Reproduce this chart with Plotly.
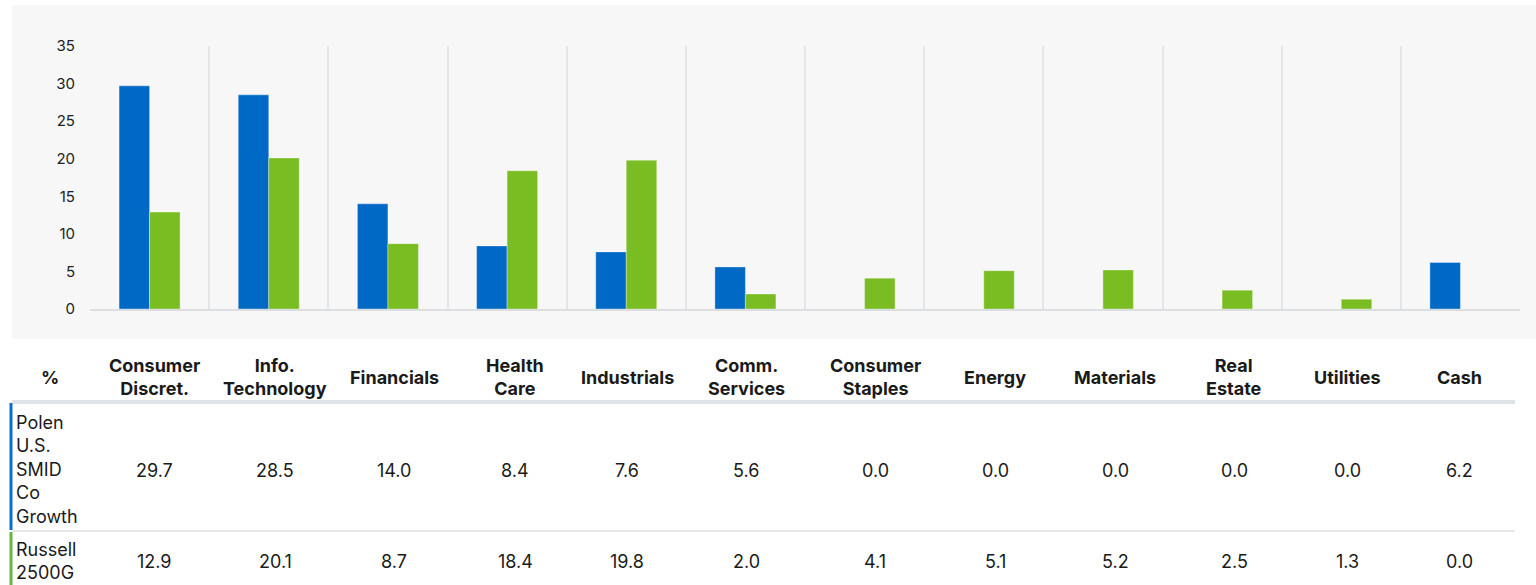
import plotly.graph_objects as go

# ---- data ----
sectors = ["Consumer Discret.", "Info. Technology", "Financials", "Health Care",
           "Industrials", "Comm. Services", "Consumer Staples", "Energy",
           "Materials", "Real Estate", "Utilities", "Cash"]
header_labels = ["Consumer<br>Discret.", "Info.<br>Technology", "Financials", "Health<br>Care",
                 "Industrials", "Comm.<br>Services", "Consumer<br>Staples", "Energy",
                 "Materials", "Real<br>Estate", "Utilities", "Cash"]
series_names = ["Polen U.S. SMID Co Growth", "Russell 2500G"]
row_labels = ["Polen<br>U.S.<br>SMID<br>Co<br>Growth", "Russell<br>2500G"]
polen = [29.7, 28.5, 14.0, 8.4, 7.6, 5.6, 0.0, 0.0, 0.0, 0.0, 0.0, 6.2]
russell = [12.9, 20.1, 8.7, 18.4, 19.8, 2.0, 4.1, 5.1, 5.2, 2.5, 1.3, 0.0]
y_ticks = [0, 5, 10, 15, 20, 25, 30, 35]

# ---- layout constants (pixels) ----
W, H = 1536, 585
BLUE = "#0069c6"
GREEN = "#7abd22"
FONT = "Inter"
TXT = "#1a1a1a"
plot_x0, plot_x1 = 90, 1520
plot_y0, plot_y1 = 46, 309
table_col_x = [154, 275, 394, 515, 627, 746, 875, 995, 1115, 1234, 1347, 1459]
header_y = 377
row_y = [470, 561]
row_label_y = [469, 561]


def px(x):
    return x / W


def py(y):
    return 1 - y / H


n = len(sectors)
xs = list(range(n))

fig = go.Figure()
fig.add_trace(go.Bar(x=xs, y=polen, name=series_names[0],
                     marker=dict(color=BLUE, line=dict(color="rgba(255,255,255,0.35)", width=1))))
fig.add_trace(go.Bar(x=xs, y=russell, name=series_names[1],
                     marker=dict(color=GREEN, line=dict(color="rgba(255,255,255,0.35)", width=1))))

shapes = [
    dict(type="rect", xref="paper", yref="paper", x0=px(12), x1=1, y0=py(339), y1=py(5),
         fillcolor="#f7f7f7", line=dict(width=0), layer="below"),
    dict(type="line", xref="paper", yref="paper", x0=px(12), x1=px(1515), y0=py(402), y1=py(402),
         line=dict(color="#dfe3e8", width=4)),
    dict(type="line", xref="paper", yref="paper", x0=px(12), x1=px(1515), y0=py(531), y1=py(531),
         line=dict(color="#e6e8ea", width=2)),
    dict(type="line", xref="paper", yref="paper", x0=px(11), x1=px(11), y0=py(403), y1=py(530),
         line=dict(color="#0a6dd0", width=3)),
    dict(type="line", xref="paper", yref="paper", x0=px(11), x1=px(11), y0=py(532), y1=0,
         line=dict(color="#6db33f", width=3)),
]

ann = []
ann.append(dict(x=px(50), y=py(header_y), text="<b>%</b>", showarrow=False,
                xref="paper", yref="paper", xanchor="center", yanchor="middle",
                font=dict(family=FONT, size=18, color=TXT)))
for i, lab in enumerate(header_labels):
    ann.append(dict(x=px(table_col_x[i]), y=py(header_y), text="<b>" + lab + "</b>",
                    showarrow=False, xref="paper", yref="paper", xanchor="center",
                    yanchor="middle", align="center",
                    font=dict(family=FONT, size=18, color=TXT)))
for r, (lab, vals) in enumerate(zip(row_labels, [polen, russell])):
    ann.append(dict(x=px(14), y=py(row_label_y[r]), text=lab, showarrow=False,
                    xref="paper", yref="paper", xanchor="left", yanchor="middle",
                    align="left", font=dict(family=FONT, size=18, color=TXT)))
    for i, v in enumerate(vals):
        ann.append(dict(x=px(table_col_x[i]), y=py(row_y[r]), text=f"{v:.1f}",
                        showarrow=False, xref="paper", yref="paper", xanchor="center",
                        yanchor="middle", font=dict(family=FONT, size=18, color=TXT)))

fig.update_layout(
    width=W, height=H,
    margin=dict(l=0, r=0, t=0, b=0, pad=0, autoexpand=False),
    paper_bgcolor="white",
    plot_bgcolor="rgba(0,0,0,0)",
    barmode="group", bargap=0.488, bargroupgap=0,
    showlegend=False,
    shapes=shapes,
    annotations=ann,
    xaxis=dict(domain=[px(plot_x0), px(plot_x1)], range=[-0.5, n - 0.5],
               tickvals=[k - 0.5 for k in range(n + 1)], showticklabels=False,
               showgrid=True, gridcolor="#e3e6e9", gridwidth=1.5, zeroline=False,
               showline=True, linecolor="#dcdfe2", linewidth=1.5, ticks="",
               automargin=False),
    yaxis=dict(domain=[py(plot_y1), py(plot_y0)], range=[0, 35], tickvals=y_ticks,
               showgrid=False, zeroline=False, showline=False,
               ticklabelstandoff=14, automargin=False,
               tickfont=dict(family=FONT, size=15, color="#222222")),
)

fig.write_html("out.html", config={"displayModeBar": False},
               post_script="document.body.style.margin='0';document.body.style.overflow='hidden';")
